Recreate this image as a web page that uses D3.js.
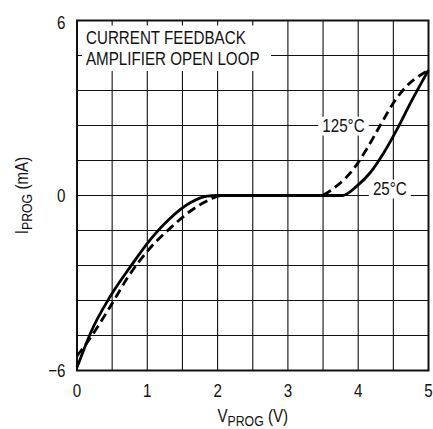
<!DOCTYPE html>
<html>
<head>
<meta charset="utf-8">
<script src="https://cdn.jsdelivr.net/npm/d3@7"></script>
<style>
  html, body { margin: 0; padding: 0; background: #fff; }
  svg { display: block; }
  text { font-family: "Liberation Sans", Arial, sans-serif; fill: #111; }
</style>
</head>
<body>
<script>
// ---- data ----
const v25  = [0, 0.095, 0.19, 0.47, 0.76, 1.04, 1.33, 1.61, 1.85, 2.0, 2.5, 3.0, 3.5, 3.78, 3.98, 4.17, 4.36, 4.55, 4.75, 5.0];
const i25  = [-5.9, -5.3, -4.73, -3.47, -2.44, -1.52, -0.77, -0.25, -0.02, 0, 0, 0, 0, 0, 0.32, 0.78, 1.45, 2.26, 3.2, 4.3];
const v125 = [0, 0.07, 0.165, 0.47, 0.73, 1.04, 1.33, 1.61, 1.89, 2.05, 2.5, 3.0, 3.45, 3.69, 3.93, 4.12, 4.31, 4.5, 4.73, 4.9, 5.0];
const i125 = [-5.5, -5.28, -4.97, -3.82, -2.78, -1.80, -1.11, -0.54, -0.14, 0, 0, 0, 0, 0.32, 0.9, 1.59, 2.39, 3.17, 3.85, 4.15, 4.3];
const xTicks = [0, 1, 2, 3, 4, 5];
const xTickLabels = ["0", "1", "2", "3", "4", "5"];
const yTicks = [-6, 0, 6];
const yTickLabels = ["\u22126", "0", "6"];
const xGrid = [0.5, 1, 1.5, 2, 2.5, 3, 3.5, 4, 4.5];
const yGrid = [-4.8, -3.6, -2.4, -1.2, 0, 1.2, 2.4, 3.6, 4.8];
const titleLines = ["CURRENT FEEDBACK", "AMPLIFIER OPEN LOOP"];
const seriesLabels = [
  { text: "125\u00B0C", v: 3.79, i: 2.4 },
  { text: "25\u00B0C", v: 4.45, i: 0 }
];

// ---- layout ----
const W = 433, H = 429;
const x0 = 77, x1 = 428.5, y0 = 20.5, y1 = 370.5;
const x = d3.scaleLinear().domain([0, 5]).range([x0, x1]);
const y = d3.scaleLinear().domain([-6, 6]).range([y1, y0]);
const fs = 18.5, sx = 0.82;

const svg = d3.select("body").append("svg").attr("width", W).attr("height", H);

// condensed text helper
function addText(parent, px, py, str, anchor, extra) {
  const gg = parent.append("g").attr("transform", `translate(${px},${py})${extra || ""} scale(${sx},1)`);
  const t = gg.append("text").attr("text-anchor", anchor).attr("font-size", fs).text(str);
  return { g: gg, t: t };
}

// grid
const g = svg.append("g").attr("stroke", "#111").attr("stroke-width", 1.1);
g.selectAll("line.vx").data(xGrid).enter().append("line")
  .attr("x1", d => x(d)).attr("x2", d => x(d)).attr("y1", y0).attr("y2", y1);
g.selectAll("line.hy").data(yGrid).enter().append("line")
  .attr("y1", d => y(d)).attr("y2", d => y(d)).attr("x1", x0).attr("x2", x1);

// title box (covers grid, leaves short ticks at edges)
svg.append("rect").attr("x", x0 + 5).attr("y", y0 + 5)
  .attr("width", 271 - (x0 + 5)).attr("height", 71 - (y0 + 5)).attr("fill", "#fff");
titleLines.forEach((s, k) => addText(svg, 86, 44 + k * 21, s, "start"));

// frame
svg.append("rect").attr("x", x0).attr("y", y0).attr("width", x1 - x0).attr("height", y1 - y0)
  .attr("fill", "none").attr("stroke", "#111").attr("stroke-width", 2);

// series labels with white background
seriesLabels.forEach(l => {
  const o = addText(svg, x(l.v), y(l.i), l.text, "middle");
  o.t.attr("dy", l.i === 0 ? "-0.02em" : "0.36em");
  const b = o.t.node().getBBox();
  o.g.insert("rect", "text").attr("x", b.x - 5).attr("y", b.y + 1).attr("width", b.width + 10)
    .attr("height", b.height - 2).attr("fill", "#fff");
});

// curves
const line = d3.line().x(d => x(d[0])).y(d => y(d[1])).curve(d3.curveMonotoneX);
svg.append("path").datum(v125.map((v, k) => [v, i125[k]]))
  .attr("d", line).attr("fill", "none").attr("stroke", "#000")
  .attr("stroke-width", 2.8).attr("stroke-dasharray", "9,5");
svg.append("path").datum(v25.map((v, k) => [v, i25[k]]))
  .attr("d", line).attr("fill", "none").attr("stroke", "#000")
  .attr("stroke-width", 2.8);

// tick labels
xTicks.forEach((d, k) => addText(svg, x(d), y1 + 26.5, xTickLabels[k], "middle"));
yTicks.forEach((d, k) => {
  const o = addText(svg, x0 - 11.5, Math.max(y(d), y0 + 2), yTickLabels[k], "end");
  o.t.attr("dy", "0.36em");
});

// axis titles
const xo = addText(svg, x(2.5), 422, "", "middle");
xo.t.append("tspan").text("V");
xo.t.append("tspan").attr("font-size", 15).attr("dy", 4).text("PROG");
xo.t.append("tspan").attr("dy", -4).text(" (V)");

const yo = addText(svg, 28, y(0), "", "middle", " rotate(-90)");
yo.t.append("tspan").text("I");
yo.t.append("tspan").attr("font-size", 15).attr("dy", 4).text("PROG");
yo.t.append("tspan").attr("dy", -4).text(" (mA)");
</script>
</body>
</html>
